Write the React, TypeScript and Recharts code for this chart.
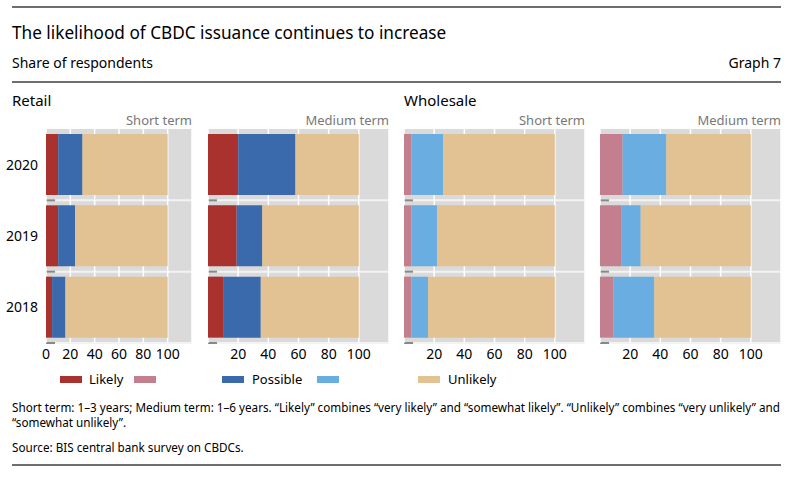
import React from "react";
import { BarChart, Bar, XAxis, YAxis, CartesianGrid } from "recharts";

const YEARS = ["2020", "2019", "2018"];

// segment values, share of respondents (%)
const retailShortLikely = [10, 10, 5];
const retailShortPossible = [20, 14, 11];
const retailShortUnlikely = [70, 76, 84];

const retailMediumLikely = [20, 19, 10];
const retailMediumPossible = [38, 17, 25];
const retailMediumUnlikely = [42, 64, 65];

const wholesaleShortLikely = [5, 5, 5];
const wholesaleShortPossible = [21, 17, 11];
const wholesaleShortUnlikely = [74, 78, 84];

const wholesaleMediumLikely = [15, 14, 9];
const wholesaleMediumPossible = [29, 13, 27];
const wholesaleMediumUnlikely = [56, 73, 64];

const TICKS_FIRST = [0, 20, 40, 60, 80, 100];
const TICKS_REST = [20, 40, 60, 80, 100];

const FONT = '"Noto Sans", "DejaVu Sans", sans-serif';

const RED = "#a9322f";
const PINK = "#c47f8e";
const BLUE = "#3a6aab";
const LIGHT_BLUE = "#6aade0";
const TAN = "#e2c292";
const BG = "#dadada";

const build = (likely: number[], possible: number[], unlikely: number[]) =>
  YEARS.map((year, i) => ({
    year,
    likely: likely[i],
    possible: possible[i],
    unlikely: unlikely[i]
  }));

const HLine = (p: any) => (
  <g key={`h-${p.index}-${p.y1}`}>
    <line x1={p.x1} x2={p.x2} y1={p.y1} y2={p.y2} stroke="#f3f3f3" strokeWidth={2} />
    <line x1={p.x1} x2={p.x1 + 9} y1={p.y1} y2={p.y2} stroke="#888" strokeWidth={2} />
  </g>
);

type PanelProps = {
  data: ReturnType<typeof build>;
  left: number;
  width: number;
  showY: boolean;
  wholesale: boolean;
  label: string;
};

function Panel({ data, left, width, showY, wholesale, label }: PanelProps) {
  const top = 110;
  return (
    <div style={{ position: "absolute", left, top, width, height: 260 }}>
      <div
        style={{
          position: "absolute",
          right: showY ? 3 : 0,
          top: 2,
          fontSize: 13,
          color: "#777",
          fontFamily: FONT,
          lineHeight: "16px"
        }}
      >
        {label}
      </div>
      <BarChart
        width={width}
        height={260}
        layout="vertical"
        data={data}
        margin={{ top: 19, right: showY ? 3 : 0, left: 0, bottom: 0 }}
        barCategoryGap="7%"
      >
        <CartesianGrid
          fill={BG}
          fillOpacity={1}
          stroke="#fff"
          strokeWidth={1.5}
          horizontal={HLine}
          horizontalCoordinatesGenerator={({ offset }: any) =>
            [1, 2, 3].map((k) => offset.top + (offset.height * k) / 3)
          }
        />
        <XAxis
          type="number"
          domain={[0, 120]}
          ticks={showY ? TICKS_FIRST : TICKS_REST}
          interval={0}
          axisLine={false}
          tickLine={false}
          tickSize={4}
          height={27}
          tick={{ fontSize: 14, fill: "#000", fontFamily: FONT }}
        />
        <YAxis
          type="category"
          dataKey="year"
          hide={!showY}
          width={46}
          axisLine={false}
          tickLine={false}
          tick={{ fontSize: 14, fill: "#000", fontFamily: FONT }}
        />
        <Bar dataKey="likely" stackId="a" fill={wholesale ? PINK : RED} isAnimationActive={false} />
        <Bar dataKey="possible" stackId="a" fill={wholesale ? LIGHT_BLUE : BLUE} isAnimationActive={false} />
        <Bar dataKey="unlikely" stackId="a" fill={TAN} isAnimationActive={false} />
      </BarChart>
    </div>
  );
}

const txt = (
  content: React.ReactNode,
  left: number,
  centerY: number,
  size: number,
  extra: React.CSSProperties = {}
) => (
  <div
    style={{
      position: "absolute",
      left,
      top: centerY - size * 0.6,
      fontSize: size,
      lineHeight: `${size * 1.2}px`,
      fontFamily: FONT,
      color: "#000",
      whiteSpace: "nowrap",
      ...extra
    }}
  >
    {content}
  </div>
);

const rule = (y: number) => (
  <div
    style={{
      position: "absolute",
      left: 12,
      top: y - 1,
      width: 769,
      height: 2,
      background: "#6e6e6e"
    }}
  />
);

const swatch = (left: number, color: string) => (
  <div
    style={{
      position: "absolute",
      left,
      top: 376,
      width: 22,
      height: 7,
      background: color
    }}
  />
);

export default function App() {
  return (
    <div
      style={{
        position: "absolute",
        left: 0,
        top: 0,
        width: 801,
        height: 477,
        background: "#fff",
        overflow: "hidden"
      }}
    >
      {rule(7)}
      {txt("The likelihood of CBDC issuance continues to increase", 12, 33, 17.2)}
      {txt("Share of respondents", 12, 63, 14)}
      <div
        style={{
          position: "absolute",
          right: 20,
          top: 63 - 8.4,
          fontSize: 14,
          lineHeight: "16.8px",
          fontFamily: FONT
        }}
      >
        Graph 7
      </div>
      {rule(82)}

      {txt("Retail", 12, 100, 15)}
      {txt("Wholesale", 404, 100, 15)}

      <Panel
        data={build(retailShortLikely, retailShortPossible, retailShortUnlikely)}
        left={0}
        width={195}
        showY
        wholesale={false}
        label="Short term"
      />
      <Panel
        data={build(retailMediumLikely, retailMediumPossible, retailMediumUnlikely)}
        left={208}
        width={181}
        showY={false}
        wholesale={false}
        label="Medium term"
      />
      <Panel
        data={build(wholesaleShortLikely, wholesaleShortPossible, wholesaleShortUnlikely)}
        left={404}
        width={181}
        showY={false}
        wholesale
        label="Short term"
      />
      <Panel
        data={build(wholesaleMediumLikely, wholesaleMediumPossible, wholesaleMediumUnlikely)}
        left={600}
        width={181}
        showY={false}
        wholesale
        label="Medium term"
      />

      {swatch(60, RED)}
      {txt("Likely", 89, 380, 13)}
      {swatch(134, PINK)}
      {swatch(222, BLUE)}
      {txt("Possible", 252, 380, 13)}
      {swatch(317, LIGHT_BLUE)}
      {swatch(418, TAN)}
      {txt("Unlikely", 448, 380, 13)}

      {txt(
        "Short term: 1–3 years; Medium term: 1–6 years. “Likely” combines “very likely” and “somewhat likely”. “Unlikely” combines “very unlikely” and",
        12,
        407,
        11.7
      )}
      {txt("“somewhat unlikely”.", 12, 422, 11.7)}
      {txt("Source: BIS central bank survey on CBDCs.", 12, 447, 11.7)}
      {rule(465)}
    </div>
  );
}
